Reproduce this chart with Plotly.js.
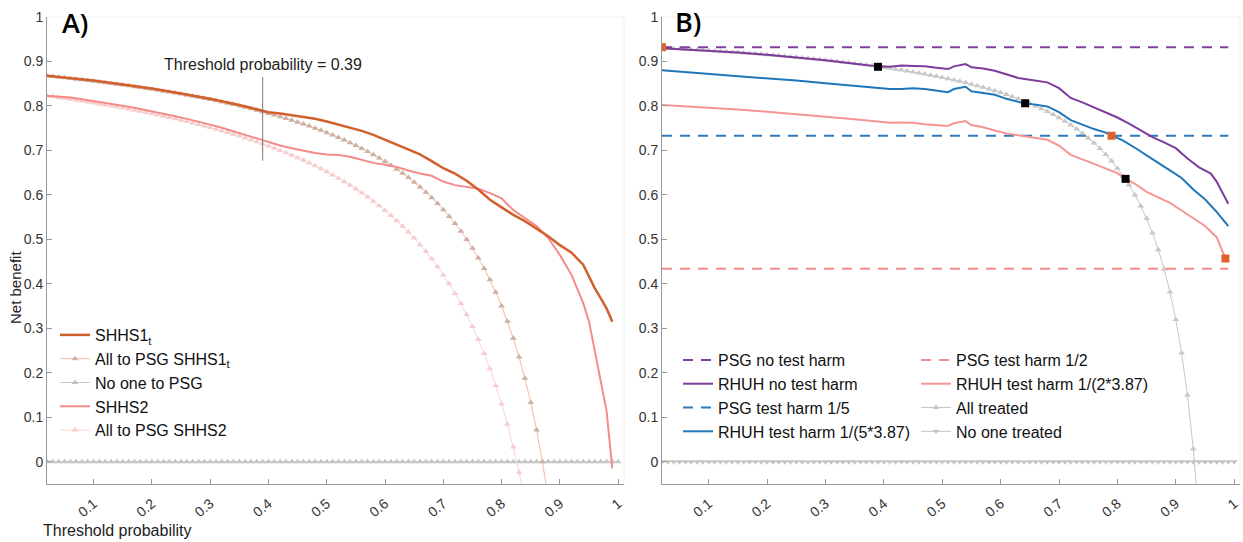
<!DOCTYPE html>
<html>
<head>
<meta charset="utf-8">
<script src="https://cdn.plot.ly/plotly-3.0.1.min.js"></script>
<style>html,body{margin:0;padding:0;background:#fff;}#chart{width:1243px;height:542px;}</style>
</head>
<body>
<div id="chart"></div>
<script>
// ---------- shared threshold grid (0.02 ... 1.00) ----------
const thresholds = [0.02,0.03,0.04,0.05,0.06,0.07,0.08,0.09,0.10,
0.11,0.12,0.13,0.14,0.15,0.16,0.17,0.18,0.19,0.20,
0.21,0.22,0.23,0.24,0.25,0.26,0.27,0.28,0.29,0.30,
0.31,0.32,0.33,0.34,0.35,0.36,0.37,0.38,0.39,0.40,
0.41,0.42,0.43,0.44,0.45,0.46,0.47,0.48,0.49,0.50,
0.51,0.52,0.53,0.54,0.55,0.56,0.57,0.58,0.59,0.60,
0.61,0.62,0.63,0.64,0.65,0.66,0.67,0.68,0.69,0.70,
0.71,0.72,0.73,0.74,0.75,0.76,0.77,0.78,0.79,0.80,
0.81,0.82,0.83,0.84,0.85,0.86,0.87,0.88,0.89,0.90,
0.91,0.92,0.93,0.94,0.95,0.96,0.97,0.98,0.99,1.00];

const noOneNB = [0,0,0,0,0,0,0,0,0,
0,0,0,0,0,0,0,0,0,0, 0,0,0,0,0,0,0,0,0,0, 0,0,0,0,0,0,0,0,0,0,
0,0,0,0,0,0,0,0,0,0, 0,0,0,0,0,0,0,0,0,0, 0,0,0,0,0,0,0,0,0,0,
0,0,0,0,0,0,0,0,0,0, 0,0,0,0,0,0,0,0,0,0, 0,0,0,0,0,0,0,0,0,0];

// ---------- Panel A ----------
const allPsgShhs1 = [0.8673,0.8660,0.8646,0.8632,0.8617,0.8602,0.8587,0.8571,0.8556,
0.8539,0.8523,0.8506,0.8488,0.8471,0.8452,0.8434,0.8415,0.8395,0.8375,
0.8354,0.8333,0.8312,0.8289,0.8267,0.8243,0.8219,0.8194,0.8169,0.8143,
0.8116,0.8088,0.8060,0.8030,0.8000,0.7969,0.7937,0.7903,0.7869,0.7833,
0.7797,0.7759,0.7719,0.7679,0.7636,0.7593,0.7547,0.7500,0.7451,0.7400,
0.7347,0.7292,0.7234,0.7174,0.7111,0.7045,0.6977,0.6905,0.6829,0.6750,
0.6667,0.6579,0.6487,0.6389,0.6286,0.6176,0.6061,0.5938,0.5806,0.5667,
0.5517,0.5357,0.5185,0.5000,0.4800,0.4583,0.4348,0.4091,0.3810,0.3500,
0.3158,0.2778,0.2353,0.1875,0.1333,0.0714,0.0000,-0.0833];

const allPsgShhs2 = [0.8224,0.8206,0.8187,0.8168,0.8149,0.8129,0.8109,0.8088,0.8067,
0.8045,0.8023,0.8000,0.7977,0.7953,0.7929,0.7904,0.7878,0.7852,0.7825,
0.7798,0.7769,0.7740,0.7710,0.7680,0.7649,0.7616,0.7583,0.7549,0.7514,
0.7478,0.7441,0.7403,0.7364,0.7323,0.7281,0.7238,0.7194,0.7148,0.7100,
0.7051,0.7000,0.6947,0.6893,0.6836,0.6778,0.6717,0.6654,0.6588,0.6520,
0.6449,0.6375,0.6298,0.6217,0.6133,0.6046,0.5953,0.5857,0.5756,0.5650,
0.5538,0.5421,0.5297,0.5167,0.5029,0.4882,0.4727,0.4563,0.4387,0.4200,
0.4000,0.3786,0.3556,0.3308,0.3040,0.2750,0.2435,0.2091,0.1714,0.1300,
0.0842,0.0333,-0.0235,-0.0875];

const shhs1X = [0.02,0.05,0.10,0.15,0.20,0.25,0.30,0.35,0.39,
0.40,0.42,0.44,0.46,0.48,0.50,0.52,0.54,0.56,0.58,0.60,0.62,0.64,0.66,0.68,0.70,
0.72,0.74,0.76,0.78,0.80,0.82,0.84,0.86,0.88,0.90,0.92,0.94,0.96,0.97,0.98,0.99];
const shhs1Y = [0.868,0.864,0.857,0.848,0.839,0.828,0.816,0.802,0.789,
0.786,0.783,0.779,0.775,0.771,0.765,0.758,0.752,0.744,0.735,0.724,0.713,0.703,0.691,0.676,0.660,
0.648,0.632,0.612,0.589,0.572,0.555,0.541,0.524,0.507,0.487,0.470,0.443,0.390,0.368,0.345,0.315];

const shhs2X = [0.02,0.04,0.06,0.08,0.10,0.12,0.14,0.16,0.18,0.20,0.22,0.24,0.26,0.28,0.30,
0.32,0.34,0.36,0.38,0.40,0.42,0.44,0.46,0.48,0.50,0.52,0.54,0.56,0.58,0.60,
0.62,0.64,0.66,0.68,0.70,0.72,0.74,0.76,0.78,0.80,0.82,0.84,0.86,0.88,0.90,
0.92,0.94,0.95,0.96,0.97,0.98,0.99];
const shhs2Y = [0.823,0.821,0.819,0.815,0.811,0.807,0.803,0.798,0.793,0.788,0.783,0.777,0.771,0.765,0.758,
0.751,0.743,0.735,0.727,0.719,0.711,0.705,0.699,0.694,0.691,0.690,0.686,0.679,0.672,0.668,
0.663,0.655,0.648,0.643,0.630,0.622,0.618,0.614,0.604,0.592,0.566,0.548,0.530,0.503,0.465,
0.420,0.357,0.315,0.250,0.180,0.115,-0.015];

const thresholdMark = 0.39;
const thresholdLineY = [0.677, 0.865];

// ---------- Panel B ----------
const allTreated = [0.9306,0.9299,0.9292,0.9284,0.9277,0.9269,0.9261,0.9253,0.9244,
0.9236,0.9227,0.9218,0.9209,0.9200,0.9190,0.9181,0.9171,0.9160,0.9150,
0.9139,0.9128,0.9117,0.9105,0.9093,0.9081,0.9068,0.9056,0.9042,0.9029,
0.9014,0.9000,0.8985,0.8970,0.8954,0.8938,0.8921,0.8903,0.8885,0.8867,
0.8847,0.8828,0.8807,0.8786,0.8764,0.8741,0.8717,0.8692,0.8667,0.8640,
0.8612,0.8583,0.8553,0.8522,0.8489,0.8455,0.8419,0.8381,0.8341,0.8300,
0.8256,0.8211,0.8162,0.8111,0.8057,0.7999,0.7939,0.7875,0.7806,0.7733,
0.7655,0.7571,0.7482,0.7385,0.7280,0.7167,0.7044,0.6909,0.6762,0.6600,
0.6421,0.6222,0.6000,0.5750,0.5467,0.5143,0.4769,0.4333,0.3818,0.3200,
0.2444,0.1500,0.0286,-0.1333];

const psgLineX = [0.02, 0.99];
const psgNoHarm = [0.932, 0.932];
const psgHarm5 = [0.733, 0.733];
const psgHarm2 = [0.434, 0.434];

const rhuhNoX = [0.02,0.05,0.10,0.15,0.20,0.25,0.30,0.35,0.39,0.41,0.43,0.45,0.47,0.49,0.51,
0.52,0.54,0.55,0.57,0.59,0.61,0.63,0.65,0.67,0.68,
0.70,0.72,0.74,0.76,0.78,0.80,0.82,0.84,0.86,0.88,0.90,0.92,0.94,0.96,0.97,0.98,0.99];
const rhuhNoY = [0.930,0.928,0.924,0.920,0.915,0.909,0.903,0.895,0.889,0.888,0.891,0.890,0.889,0.886,0.883,
0.889,0.894,0.887,0.884,0.879,0.871,0.863,0.859,0.856,0.853,
0.840,0.818,0.808,0.797,0.786,0.774,0.760,0.745,0.730,0.718,0.705,0.682,0.662,0.648,0.630,0.605,0.580];

const rhuh5X = [0.02,0.05,0.10,0.15,0.20,0.25,0.30,0.35,0.39,0.41,0.43,0.45,0.47,0.49,0.51,
0.52,0.54,0.55,0.57,0.59,0.61,0.63,0.64,0.66,0.68,
0.70,0.72,0.74,0.76,0.78,0.79,0.81,0.83,0.85,0.87,0.89,0.91,0.93,0.95,0.97,0.99];
const rhuh5Y = [0.880,0.877,0.872,0.868,0.862,0.857,0.851,0.845,0.840,0.838,0.838,0.840,0.838,0.834,0.831,
0.838,0.843,0.833,0.829,0.825,0.816,0.809,0.806,0.803,0.799,
0.786,0.768,0.758,0.748,0.740,0.734,0.722,0.706,0.688,0.672,0.655,0.638,0.612,0.590,0.562,0.530];

const rhuh2X = [0.02,0.05,0.10,0.15,0.20,0.25,0.30,0.35,0.39,0.41,0.43,0.45,0.47,0.49,0.51,
0.52,0.54,0.55,0.57,0.59,0.61,0.63,0.65,0.67,0.68,
0.70,0.72,0.74,0.76,0.78,0.80,0.81,0.83,0.85,0.87,0.89,0.91,0.93,0.95,0.97,0.985];
const rhuh2Y = [0.802,0.800,0.796,0.792,0.787,0.782,0.776,0.770,0.764,0.762,0.763,0.762,0.759,0.757,0.755,
0.761,0.766,0.757,0.752,0.745,0.738,0.734,0.730,0.727,0.724,
0.711,0.690,0.680,0.670,0.660,0.649,0.640,0.625,0.607,0.595,0.582,0.565,0.548,0.530,0.505,0.457];

const blackSqX = [0.39, 0.642, 0.814];
const blackSqY = [0.888, 0.806, 0.636];
const orangeSqX = [0.02, 0.79, 0.985];
const orangeSqY = [0.932, 0.733, 0.457];

const xTickVals = [0.1,0.2,0.3,0.4,0.5,0.6,0.7,0.8,0.9,1];
const xTickText = ['0.1','0.2','0.3','0.4','0.5','0.6','0.7','0.8','0.9','1'];
const yTickVals = [0,0.1,0.2,0.3,0.4,0.5,0.6,0.7,0.8,0.9,1];
const yTickText = ['0','0.1','0.2','0.3','0.4','0.5','0.6','0.7','0.8','0.9','1'];

// ---------- traces ----------
const W = 1243, H = 542;
const gray = '#c6c6c6';
const traces = [];

// Panel A
traces.push({x: thresholds, y: noOneNB, xaxis:'x', yaxis:'y', mode:'lines+markers', name:'No one to PSG',
  line:{color:gray, width:1}, marker:{symbol:'triangle-up', size:6, color:'#c4c4c4'}, legend:'legend', legendrank:3});
traces.push({x: thresholds.slice(0, allPsgShhs2.length), y: allPsgShhs2, xaxis:'x', yaxis:'y', mode:'lines+markers',
  name:'All to PSG SHHS2', line:{color:'#f9d3d3', width:1}, marker:{symbol:'triangle-up', size:6, color:'#f7cccc'},
  legend:'legend', legendrank:5});
traces.push({x: thresholds.slice(0, allPsgShhs1.length), y: allPsgShhs1, xaxis:'x', yaxis:'y', mode:'lines+markers',
  name:'All to PSG SHHS1<sub>t</sub>', line:{color:'#efbba2', width:1}, marker:{symbol:'triangle-up', size:6, color:'#cdb0a3'},
  legend:'legend', legendrank:2});
traces.push({x: shhs2X, y: shhs2Y, xaxis:'x', yaxis:'y', mode:'lines', name:'SHHS2',
  line:{color:'#f58a8a', width:2}, legend:'legend', legendrank:4});
traces.push({x: shhs1X, y: shhs1Y, xaxis:'x', yaxis:'y', mode:'lines', name:'SHHS1<sub>t</sub>',
  line:{color:'#d2602c', width:2.5}, legend:'legend', legendrank:1});
traces.push({x: [thresholdMark, thresholdMark], y: thresholdLineY, xaxis:'x', yaxis:'y', mode:'lines',
  line:{color:'#7a7a7a', width:1}, showlegend:false, hoverinfo:'skip'});

// Panel B
traces.push({x: thresholds, y: noOneNB, xaxis:'x2', yaxis:'y2', mode:'lines+markers', name:'No one treated',
  line:{color:gray, width:1}, marker:{symbol:'triangle-down', size:6, color:'#c4c4c4'}, legend:'legend3', legendrank:8});
traces.push({x: thresholds.slice(0, allTreated.length), y: allTreated, xaxis:'x2', yaxis:'y2', mode:'lines+markers',
  name:'All treated', line:{color:gray, width:1}, marker:{symbol:'triangle-up', size:6, color:'#c8c8c8'},
  legend:'legend3', legendrank:7});
traces.push({x: psgLineX, y: psgHarm2, xaxis:'x2', yaxis:'y2', mode:'lines', name:'PSG test harm 1/2',
  line:{color:'#f28c8c', width:2, dash:'10px,8px'}, legend:'legend3', legendrank:5});
traces.push({x: psgLineX, y: psgHarm5, xaxis:'x2', yaxis:'y2', mode:'lines', name:'PSG test harm 1/5',
  line:{color:'#2a7bc0', width:2, dash:'10px,8px'}, legend:'legend2', legendrank:3});
traces.push({x: psgLineX, y: psgNoHarm, xaxis:'x2', yaxis:'y2', mode:'lines', name:'PSG no test harm',
  line:{color:'#8040a0', width:2, dash:'10px,8px'}, legend:'legend2', legendrank:1});
traces.push({x: rhuh2X, y: rhuh2Y, xaxis:'x2', yaxis:'y2', mode:'lines', name:'RHUH test harm 1/(2*3.87)',
  line:{color:'#f49696', width:2}, legend:'legend3', legendrank:6});
traces.push({x: rhuh5X, y: rhuh5Y, xaxis:'x2', yaxis:'y2', mode:'lines', name:'RHUH test harm 1/(5*3.87)',
  line:{color:'#1f77b8', width:2}, legend:'legend2', legendrank:4});
traces.push({x: rhuhNoX, y: rhuhNoY, xaxis:'x2', yaxis:'y2', mode:'lines', name:'RHUH no test harm',
  line:{color:'#7d3c9b', width:2}, legend:'legend2', legendrank:2});
traces.push({x: blackSqX, y: blackSqY, xaxis:'x2', yaxis:'y2', mode:'markers', showlegend:false,
  marker:{symbol:'square', size:8, color:'#000'}});
traces.push({x: orangeSqX, y: orangeSqY, xaxis:'x2', yaxis:'y2', mode:'markers', showlegend:false,
  marker:{symbol:'square', size:8, color:'#e0622b'}});

// ---------- layout ----------
function xAx(dom, anchor) {
  return {domain: dom, anchor: anchor, range: [0.02, 1.01], showline: true, linecolor: '#999', linewidth: 1,
    ticks: 'inside', ticklen: 5, tickcolor: '#999', showgrid: false, zeroline: false,
    tickmode: 'array', tickvals: xTickVals, ticktext: xTickText, tickangle: -40,
    tickfont: {size: 14, color: '#333'}, ticklabelstandoff: 5};
}
function yAx(anchor) {
  return {domain: [1 - 484/H, 1 - 17/H], anchor: anchor, range: [-0.05, 1.0], showline: true, linecolor: '#999',
    linewidth: 1, ticks: 'inside', ticklen: 5, tickcolor: '#999', showgrid: false, zeroline: false,
    tickmode: 'array', tickvals: yTickVals, ticktext: yTickText, tickfont: {size: 14, color: '#333'}};
}
const legendBase = {xanchor:'left', yanchor:'top', bgcolor:'rgba(255,255,255,0)', borderwidth:0,
  font:{size:16, color:'#111'}, traceorder:'normal', tracegroupgap:0};

const layout = {
  width: W, height: H,
  margin: {l:0, r:0, t:0, b:0},
  paper_bgcolor: '#fff', plot_bgcolor: '#fff',
  font: {family: '"Liberation Sans", Arial, sans-serif', size: 13, color: '#333'},
  xaxis: xAx([47/W, 624/W], 'y'),
  yaxis: yAx('x'),
  xaxis2: xAx([662/W, 1240/W], 'y2'),
  yaxis2: yAx('x2'),
  showlegend: true,
  legend: Object.assign({}, legendBase, {x: 55/W, y: 1 - 318/H}),
  legend2: Object.assign({}, legendBase, {x: 678/W, y: 1 - 343/H}),
  legend3: Object.assign({}, legendBase, {x: 916/W, y: 1 - 343/H}),
  shapes: [
    {type:'line', xref:'paper', yref:'paper', x0:47/W, x1:624/W, y0:1-17/H, y1:1-17/H, line:{color:'#f0f0f0', width:1}},
    {type:'line', xref:'paper', yref:'paper', x0:624/W, x1:624/W, y0:1-17/H, y1:1-484/H, line:{color:'#f0f0f0', width:1}},
    {type:'line', xref:'paper', yref:'paper', x0:662/W, x1:1240/W, y0:1-17/H, y1:1-17/H, line:{color:'#f0f0f0', width:1}},
    {type:'line', xref:'paper', yref:'paper', x0:1240/W, x1:1240/W, y0:1-17/H, y1:1-484/H, line:{color:'#f0f0f0', width:1}}
  ],
  annotations: [
    {text:'A)', xref:'paper', yref:'paper', x:60/W, y:1-22/H, xanchor:'left', yanchor:'middle', showarrow:false,
      font:{family:'"Open Sans", sans-serif', size:27, color:'#000', weight:600}},
    {text:'B)', xref:'paper', yref:'paper', x:673/W, y:1-21/H, xanchor:'left', yanchor:'middle', showarrow:false,
      font:{family:'"Open Sans", sans-serif', size:27, color:'#000', weight:600}},
    {text:'Threshold probability = 0.39', xref:'x', yref:'y', x:thresholdMark, y:0.894, xanchor:'center', yanchor:'middle',
      showarrow:false, font:{size:16, color:'#222'}},
    {text:'Net benefit', xref:'paper', yref:'paper', x:15/W, y:1-288/H, xanchor:'center', yanchor:'middle', textangle:-90,
      showarrow:false, font:{size:15, color:'#222'}},
    {text:'Threshold probability', xref:'paper', yref:'paper', x:41/W, y:1-530/H, xanchor:'left', yanchor:'middle',
      showarrow:false, font:{size:16, color:'#222'}}
  ]
};

Plotly.newPlot('chart', traces, layout, {staticPlot: true, displayModeBar: false});
</script>
</body>
</html>
